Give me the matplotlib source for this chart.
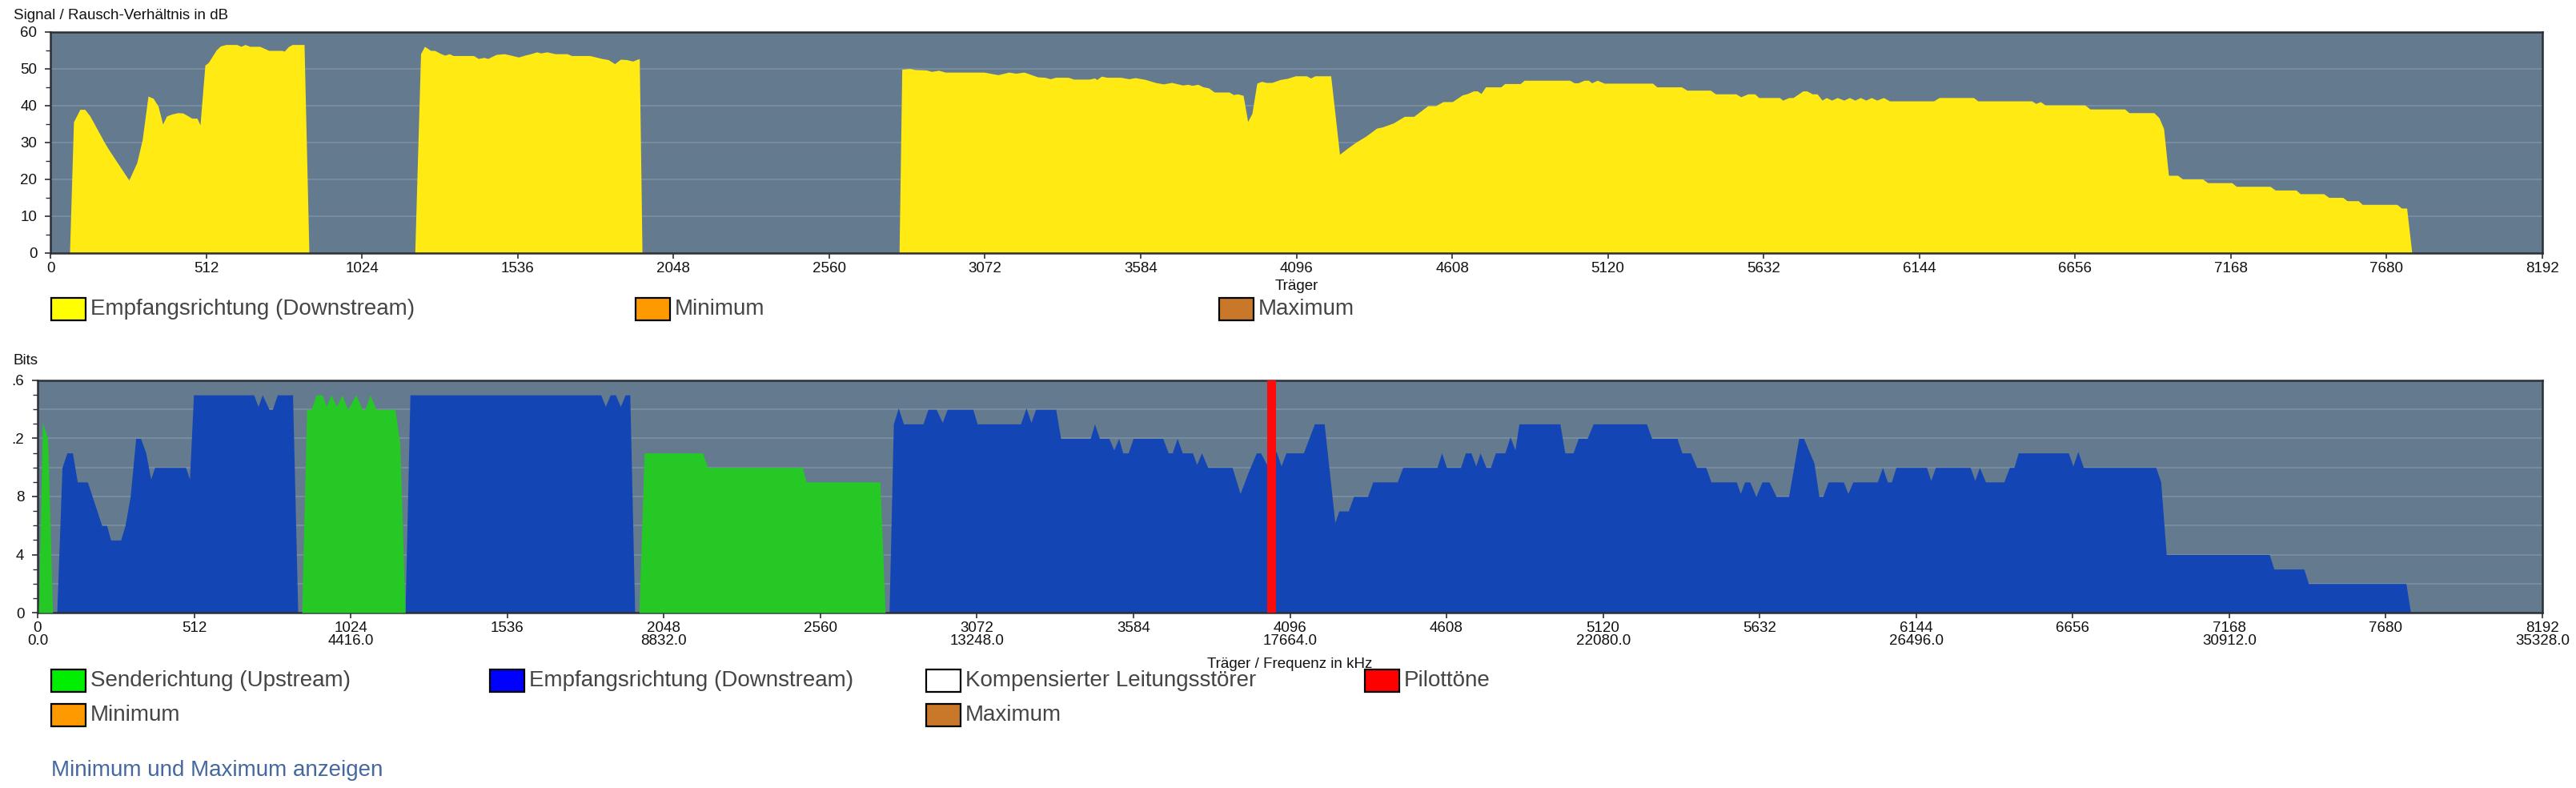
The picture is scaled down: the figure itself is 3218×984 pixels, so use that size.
"""
DSL-Spektrum: Signal/Rausch-Verhaeltnis und Bitbelegung je Traeger.
"""
import numpy as np
import matplotlib
matplotlib.use('Agg')
import matplotlib.pyplot as plt
from matplotlib.patches import Rectangle

plt.rcParams['font.family'] = ['Liberation Sans', 'DejaVu Sans']

# --- Signal / Rausch-Verhaeltnis (dB) je Traeger, Empfangsrichtung ---
snr_carrier = [
    63, 76, 97, 113, 130, 177, 190, 258, 284, 302, 321, 338, 354, 369, 382, 398, 419, 436,
    465, 482, 492, 508, 519, 546, 559, 577, 613, 626, 640, 656, 688, 718, 761, 769, 782, 795,
    834, 850,
    1198, 1217, 1230, 1250, 1263, 1284, 1297, 1311, 1324, 1391, 1407, 1425, 1438, 1465, 1492,
    1519, 1539, 1559, 1579, 1599, 1612, 1632, 1659, 1699, 1713, 1773, 1793, 1813, 1834, 1855,
    1874, 1894, 1914, 1936, 1945,
    2790, 2799, 2825, 2842, 2879, 2897, 2920, 2942, 3069, 3115, 3151, 3174, 3201, 3246, 3269,
    3287, 3305, 3346, 3364, 3414, 3433, 3440, 3455, 3473, 3518, 3545, 3567, 3600, 3632, 3659,
    3686, 3722, 3740, 3753, 3772, 3790, 3808, 3826, 3875, 3889, 3903, 3921, 3936, 3950, 3966,
    3981, 3997, 4016, 4043, 4066, 4093, 4129, 4143, 4157, 4209, 4238, 4260, 4290, 4324, 4360,
    4378, 4415, 4451, 4482, 4528, 4554, 4578, 4609, 4641, 4659, 4678, 4691, 4703, 4718, 4768,
    4781, 4832, 4845, 4995, 5009, 5022, 5042, 5056, 5067, 5085, 5108, 5267, 5281, 5362, 5380,
    5457, 5474, 5541, 5557, 5580, 5603, 5616, 5684, 5695, 5715, 5729, 5761, 5774, 5792, 5808,
    5824, 5838, 5856, 5874, 5896, 5914, 5932, 5950, 5968, 5986, 6004, 6026, 6046, 6191, 6209,
    6322, 6336, 6513, 6527, 6542, 6557, 6688, 6705, 6819, 6833, 6915, 6932, 6947, 6963, 6993,
    7009, 7075, 7092, 7171, 7186, 7297, 7314, 7382, 7396, 7473, 7490, 7536, 7550, 7587, 7600,
    7714, 7729, 7746, 7763,
]
snr_db = [
    0, 35.6, 39, 39, 37.2, 30.1, 28.3, 19.8, 24.5, 30.8, 42.6, 42.0, 39.9, 35, 37.2, 37.7, 38.1, 38,
    36.6, 36.6, 34.8, 51, 51.7, 55.2, 56.2, 56.6, 56.6, 56.1, 56.6, 56.1, 56.1, 55, 55, 54.8, 56, 56.6,
    56.6, 0,
    0, 54.1, 56.1, 55, 55, 54.1, 53.7, 54.1, 53.6, 53.6, 52.8, 53.1, 52.8, 53.9, 54.1,
    53.6, 53.2, 53.7, 54.1, 54.6, 54.3, 54.6, 54.1, 54.1, 53.6, 53.6, 53.2, 52.8, 52.5, 51.4,
    52.6, 52.5, 52.1, 52.8, 0,
    0, 49.9, 50.1, 49.8, 49.7, 49.3, 49.6, 49.1, 49.1, 48.4, 49.1, 48.8, 49.1, 47.8, 47.7,
    47.3, 47.7, 47.7, 47.2, 47.2, 47.5, 47.1, 48, 47.7, 47.7, 47.3, 47.6, 47.1, 46.3, 45.9,
    46.3, 45.6, 45.8, 45.5, 45.8, 45.1, 44.8, 43.7, 43.7, 43, 43.2, 42.8, 35.7, 37.9, 46.1,
    46.6, 46.3, 46.3, 47.1, 47.4, 48.1, 48.1, 47.5, 48.1, 48.1, 26.8, 28.2, 30, 31.7, 33.9,
    34.2, 35.3, 37.1, 37.1, 40, 40, 41.1, 41.1, 42.9, 43.3, 44, 44, 43.3, 45.1, 45.1,
    46, 46, 46.9, 46.9, 46.2, 46.2, 46.9, 46.9, 46.2, 46.9, 46.1, 46.1, 45.1, 45.1, 44.2,
    44.2, 43.2, 43.2, 42.4, 43.2, 43.2, 42.2, 42.2, 41.5, 42.2, 42.2, 44, 44, 43.2, 43.2,
    41.5, 42.2, 41.5, 42.2, 41.5, 42.2, 41.5, 42.2, 41.5, 42.2, 41.5, 42.2, 41.3, 41.3, 42.2,
    42.2, 41.3, 41.3, 40.6, 41.1, 40.2, 40.2, 39.1, 39.1, 38.1, 38.1, 36.7, 33.8, 21.1, 21.1,
    20.1, 20.1, 19.1, 19.1, 18.1, 18.1, 17.1, 17.1, 16.1, 16.1, 15.1, 15.1, 14.2, 14.2, 13.2,
    13.2, 12.2, 12.2, 0,
]

# --- Bitbelegung: Senderichtung (Upstream) ---
up_carrier = [
    3, 16, 33, 49,
    864, 880, 895, 911, 931, 944, 960, 978, 995, 1014, 1041, 1062, 1071, 1087, 1107, 1169, 1185, 1202,
    1967, 1984, 2175, 2191, 2501, 2514, 2755, 2772,
]
up_bits = [
    0, 13.1, 12, 0,
    0, 14, 14, 15, 15, 14.2, 15, 14.2, 15, 14, 15, 14, 14, 15, 14, 14, 11.6, 0,
    0, 11, 11, 10, 10, 9, 9, 0,
]

# --- Bitbelegung: Empfangsrichtung (Downstream) ---
down_carrier = [
    63, 80, 96, 114, 130, 163, 210, 226, 239, 272, 286, 303, 321, 337, 354, 370, 383, 484, 497,
    510, 707, 721, 735, 757, 768, 784, 834, 851,
    1202, 1218, 1842, 1857, 1873, 1890, 1906, 1922, 1937, 1953,
    2785, 2799, 2815, 2832, 2896, 2912, 2939, 2959, 2975, 3059, 3073, 3215, 3233, 3249, 3264,
    3330, 3346, 3443, 3457, 3473, 3504, 3520, 3536, 3549, 3567, 3583, 3680, 3698, 3711, 3727,
    3744, 3777, 3791, 3807, 3827, 3907, 3933, 3960, 3986, 4000, 4020, 4051, 4067, 4083, 4140,
    4176, 4208, 4243, 4256, 4287, 4304, 4350, 4367, 4447, 4465, 4577, 4592, 4608, 4654, 4670,
    4688, 4704, 4718, 4737, 4752, 4768, 4799, 4816, 4832, 4845, 4979, 4995, 5022, 5039, 5068,
    5088, 5262, 5279, 5362, 5378, 5406, 5426, 5456, 5473, 5556, 5569, 5583, 5600, 5620, 5640,
    5663, 5686, 5727, 5760, 5776, 5810, 5826, 5839, 5856, 5906, 5921, 5937, 6017, 6034, 6050,
    6063, 6078, 6178, 6192, 6207, 6321, 6336, 6351, 6371, 6431, 6449, 6464, 6478, 6642, 6657,
    6673, 6691, 6928, 6944, 6962, 7299, 7314, 7412, 7427, 7746, 7761,
]
down_bits = [
    0, 10, 11, 11, 9, 9, 6, 6, 5, 5, 6, 8, 12, 12, 11, 9.2, 10, 10, 9.2,
    15, 15, 14.2, 15, 14, 14, 15, 15, 0,
    0, 15, 15, 14.2, 15, 15, 14.2, 15, 15, 0,
    0, 13, 14.1, 13, 13, 14, 14, 13.1, 14, 14, 13, 13, 14.1, 13.1, 14,
    14, 12, 12, 13, 12, 12, 11.2, 12, 11, 11, 12, 12, 11, 11, 12,
    11, 11, 10.2, 11, 10, 10, 8.2, 9.7, 11, 11, 10.2, 11.1, 10.1, 11, 11,
    13, 13, 6.2, 7, 7, 8, 8, 9, 9, 10, 10, 11, 10, 10, 11,
    11, 10.1, 11, 10, 10, 11, 11, 12.1, 11.2, 13, 13, 11, 11, 12, 12,
    13, 13, 12, 12, 11, 11, 10, 10, 9, 9, 8.2, 9, 9, 8, 9,
    9, 8, 8, 12, 12, 10.3, 8, 8, 9, 9, 8.2, 9, 9, 10, 9,
    9, 10, 10, 9.1, 10, 10, 9.1, 10, 9, 9, 10, 10, 11, 11, 10.1,
    11.1, 10, 10, 9, 4, 4, 3, 3, 2, 2, 0,
]

# --- Pilottoene ---
pilot_carrier = [4035]
pilot_bits = [16]

# --- Achsenbeschriftungen ---
carrier_ticks = [0, 512, 1024, 1536, 2048, 2560, 3072, 3584, 4096, 4608, 5120, 5632, 6144,
                 6656, 7168, 7680, 8192]
freq_labels = ['0.0', '', '4416.0', '', '8832.0', '', '13248.0', '', '17664.0', '',
               '22080.0', '', '26496.0', '', '30912.0', '', '35328.0']
snr_ticks = [0, 10, 20, 30, 40, 50, 60]
bits_ticks = [0, 4, 8, 12, 16]
bits_labels = ['0', '4', '8', '.2', '.6']

# Farben
BG = '#647a8e'
GRID = '#7b90a3'
FRAME = '#2b2f36'
YELLOW = '#ffea14'
BLUE = '#1346b4'
GREEN = '#26c826'
RED = '#ff0a0a'
TXT = '#454545'
INK = '#111111'

W, H = 3218, 984
fig = plt.figure(figsize=(W / 100, H / 100), dpi=100)


def ax_box(left, top, right, bottom):
    # pixel box (from top left) -> figure fraction
    return [left / W, 1 - bottom / H, (right - left) / W, (bottom - top) / H]


def fx(x):
    return x / W


def fy(y):
    return 1 - y / H


def style_axes(ax):
    ax.set_facecolor(BG)
    for s in ax.spines.values():
        s.set_color(FRAME)
        s.set_linewidth(1.8)
    ax.tick_params(axis='both', which='major', length=5, width=1.2, color=FRAME,
                   labelsize=13.5, labelcolor=INK)
    ax.tick_params(axis='x', which='major', pad=3)
    ax.tick_params(axis='y', which='major', pad=7)
    ax.tick_params(axis='y', which='minor', length=4, width=1.0, color=FRAME)


def legend_item(x, y, color, label):
    # x, y in pixels (left edge of box, vertical centre)
    fig.patches.append(Rectangle((fx(x), fy(y + 14)), 43 / W, 28 / H, transform=fig.transFigure,
                                 facecolor=color, edgecolor='black', linewidth=1.6))
    fig.text(fx(x + 49), fy(y), label, fontsize=20, color=TXT, va='center', ha='left')


# ---------------- oberes Diagramm: SNR ----------------
ax1 = fig.add_axes(ax_box(63, 40, 3176, 316))
style_axes(ax1)
ax1.fill_between(snr_carrier, snr_db, 0, color=YELLOW, linewidth=0, zorder=2)
ax1.set_xlim(0, 8192)
ax1.set_ylim(0, 60)
ax1.set_xticks(carrier_ticks)
ax1.set_yticks(snr_ticks)
ax1.set_yticks(np.arange(5, 60, 10), minor=True)
for v in snr_ticks[1:-1]:
    ax1.axhline(v, color=GRID, linewidth=1.2, zorder=1)

fig.text(fx(17), fy(19), 'Signal / Rausch-Verhältnis in dB', fontsize=13.5, color=INK,
         va='center', ha='left')
fig.text(fx(1620), fy(357), 'Träger', fontsize=13.5, color=INK, va='center', ha='center')

legend_item(64, 386, '#ffff00', 'Empfangsrichtung (Downstream)')
legend_item(794, 386, '#ff9900', 'Minimum')
legend_item(1523, 386, '#c87828', 'Maximum')

# ---------------- unteres Diagramm: Bits ----------------
ax2 = fig.add_axes(ax_box(47, 475, 3176, 765))
style_axes(ax2)
ax2.fill_between(down_carrier, down_bits, 0, color=BLUE, linewidth=0, zorder=2)
ax2.fill_between(up_carrier, up_bits, 0, color=GREEN, linewidth=0, zorder=3)
ax2.bar(pilot_carrier, pilot_bits, width=28, color=RED, linewidth=0, zorder=4)
ax2.set_xlim(0, 8192)
ax2.set_ylim(0, 16)
ax2.set_yticks(bits_ticks)
ax2.set_yticklabels(bits_labels)
ax2.set_yticks(np.arange(1, 16, 1), minor=True)
for v in range(2, 16, 2):
    ax2.axhline(v, color=GRID, linewidth=1.2, zorder=1)
ax2.set_xticks(carrier_ticks)
ax2.set_xticklabels([f'{c}\n{f}' if f else str(c) for c, f in zip(carrier_ticks, freq_labels)],
                    linespacing=0.95)

fig.text(fx(17), fy(451), 'Bits', fontsize=13.5, color=INK, va='center', ha='left')
fig.text(fx(1611), fy(829), 'Träger / Frequenz in kHz', fontsize=13.5, color=INK,
         va='center', ha='center')

legend_item(64, 850, '#00ee00', 'Senderichtung (Upstream)')
legend_item(612, 850, '#0000ff', 'Empfangsrichtung (Downstream)')
legend_item(1157, 850, '#ffffff', 'Kompensierter Leitungsstörer')
legend_item(1705, 850, '#ff0000', 'Pilottöne')
legend_item(64, 893, '#ff9900', 'Minimum')
legend_item(1157, 893, '#c87828', 'Maximum')

fig.text(fx(64), fy(962), 'Minimum und Maximum anzeigen', fontsize=20, color='#44689f',
         va='center', ha='left')

fig.savefig('out.png', dpi=100)
